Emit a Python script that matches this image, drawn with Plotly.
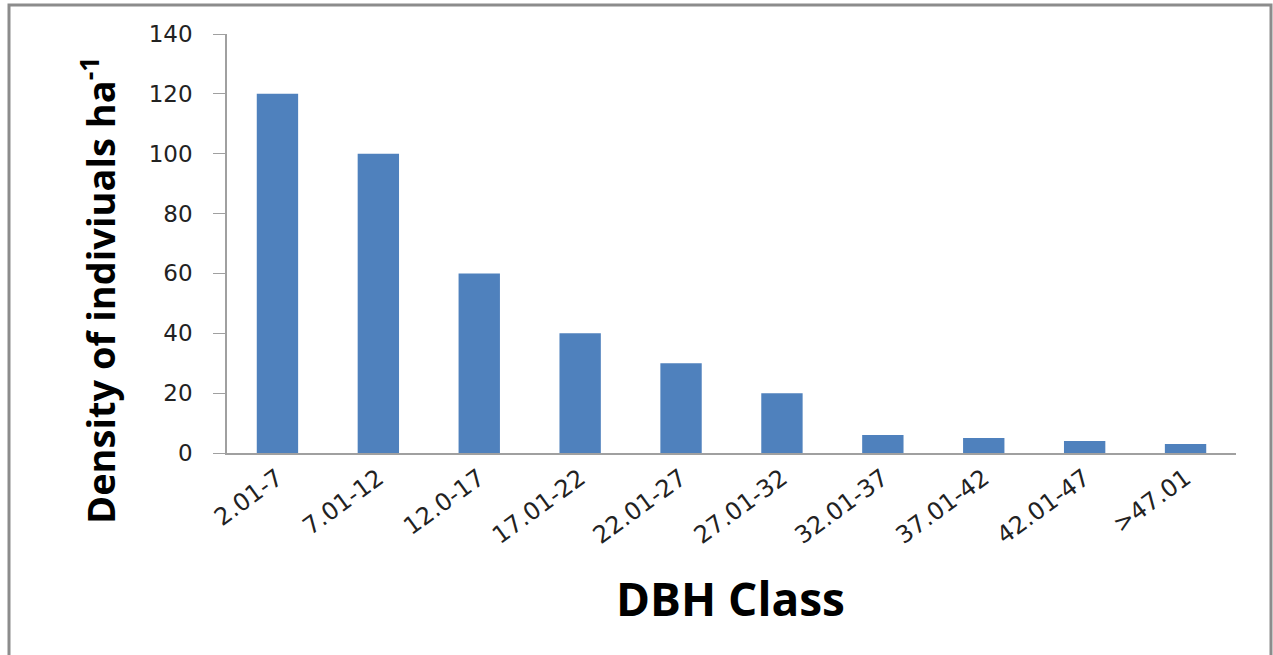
import plotly.graph_objects as go

categories = ["2.01-7", "7.01-12", "12.0-17", "17.01-22", "22.01-27",
              "27.01-32", "32.01-37", "37.01-42", "42.01-47", ">47.01"]
density = [120, 100, 60, 40, 30, 20, 6, 5, 4, 3]
y_ticks = [0, 20, 40, 60, 80, 100, 120, 140]

W, H = 1273, 655
L, R, T, B = 227, 37, 34, 202
pw, ph = W - L - R, H - T - B

def px_x(x):
    return (x - L) / pw

def px_y(y):
    return (H - B - y) / ph

fig = go.Figure(go.Bar(x=categories, y=density, marker_color="#4F81BD",
                       marker_line_width=0, width=0.41))

fig.update_layout(
    width=W, height=H, margin=dict(l=L, r=R, t=T, b=B),
    paper_bgcolor="white", plot_bgcolor="white", showlegend=False,
    font=dict(family="DejaVu Sans", color="#000000"),
)
fig.update_yaxes(range=[0, 140], tickvals=y_ticks, ticks="outside", ticklen=12,
                 tickcolor="#A0A0A0", showline=True, linecolor="#A0A0A0", linewidth=1.5,
                 showgrid=False, zeroline=False, tickfont=dict(size=23, color="#222"),
                 ticklabelstandoff=16)
fig.update_xaxes(showline=True, linecolor="#A0A0A0", linewidth=1.5, ticks="",
                 tickangle=-36, tickfont=dict(size=24, color="#222"), showgrid=False)

fig.add_annotation(text="Density of indiviuals ha<sup>-1</sup>", textangle=-90,
                   xref="paper", yref="paper", x=px_x(98), y=px_y(290),
                   showarrow=False, font=dict(size=38, family="Open Sans", weight="bold"),
                   xanchor="center", yanchor="middle")
fig.add_annotation(text="DBH Class", xref="paper", yref="paper",
                   x=px_x(730), y=px_y(598), showarrow=False,
                   font=dict(size=46, family="Open Sans", weight="bold"),
                   xanchor="center", yanchor="middle")

fig.add_shape(type="rect", xref="paper", yref="paper",
              x0=px_x(9), x1=px_x(1271), y0=px_y(680), y1=px_y(5),
              line=dict(color="#8C8C8C", width=3), layer="above")

fig.write_html("out.html")
